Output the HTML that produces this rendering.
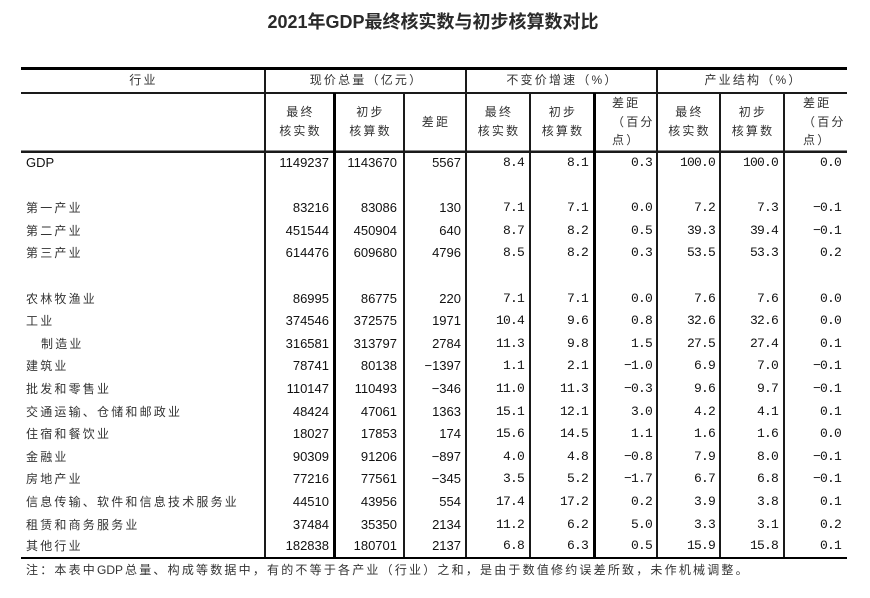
<!DOCTYPE html>
<html>
<head>
<meta charset="utf-8">
<style>
html,body{margin:0;padding:0;background:#fff;}
body{width:870px;height:598px;position:relative;overflow:hidden;font-family:"Liberation Sans","Noto Sans CJK SC",sans-serif;color:#111;}
.a{position:absolute;}
.ln{position:absolute;background:#1a1a1a;}
.title{position:absolute;left:-2px;top:10px;width:870px;text-align:center;font-size:18px;font-weight:bold;line-height:24px;color:#2a2a2a;}
.cj{font-family:"Liberation Sans","Noto Sans CJK SC",sans-serif;font-size:12px;letter-spacing:2.2px;color:#333;white-space:nowrap;}
.h1{position:absolute;top:69px;height:22px;line-height:22px;text-align:center;}
.h2{position:absolute;top:103px;line-height:19px;text-align:center;}
.h3{position:absolute;top:94px;line-height:18.5px;text-align:left;}
.row{position:absolute;left:0;width:870px;height:22.6px;line-height:24px;}
.lab{position:absolute;left:26px;top:0;}
.n{position:absolute;top:0;text-align:right;font-size:13px;color:#111;}
.d{position:absolute;top:0;text-align:right;font-family:"Liberation Mono",monospace;font-size:13px;letter-spacing:-0.8px;color:#111;}
.c1{left:265px;width:64px;}
.c2{left:336px;width:61px;}
.c3{left:405px;width:56px;}
.c4{left:467px;width:57px;}
.c5{left:531px;width:57px;}
.c6{left:596px;width:56px;}
.c7{left:658px;width:57px;}
.c8{left:721px;width:57px;}
.c9{left:785px;width:56px;}
.lat{letter-spacing:0;font-size:12px;margin-right:2px;}
</style>
</head>
<body>
<div class="title">2021年GDP最终核实数与初步核算数对比</div>

<!-- horizontal lines -->
<div class="ln" style="left:21px;top:67px;width:826px;height:3px;background:#000;"></div>
<div class="ln" style="left:21px;top:92px;width:826px;height:2px;"></div>
<div class="ln" style="left:21px;top:150px;width:826px;height:1px;background:#888;"></div>
<div class="ln" style="left:21px;top:151px;width:826px;height:1.5px;"></div>
<div class="ln" style="left:21px;top:557px;width:826px;height:2px;background:#000;"></div>

<!-- vertical lines -->
<div class="ln" style="left:264px;top:70px;width:2px;height:487px;"></div>
<div class="ln" style="left:465px;top:70px;width:2px;height:487px;"></div>
<div class="ln" style="left:656px;top:70px;width:2px;height:487px;"></div>
<div class="ln" style="left:333px;top:93px;width:3px;height:464px;background:#000;"></div>
<div class="ln" style="left:403px;top:93px;width:2px;height:464px;"></div>
<div class="ln" style="left:529px;top:93px;width:2px;height:464px;"></div>
<div class="ln" style="left:593px;top:93px;width:3px;height:464px;background:#000;"></div>
<div class="ln" style="left:719px;top:93px;width:2px;height:464px;"></div>
<div class="ln" style="left:783px;top:93px;width:2px;height:464px;"></div>

<!-- header row 1 -->
<div class="h1 cj" style="left:21px;width:245px;">行业</div>
<div class="h1 cj" style="left:266px;width:201px;">现价总量（亿元）</div>
<div class="h1 cj" style="left:467px;width:191px;">不变价增速（%）</div>
<div class="h1 cj" style="left:658px;width:191px;">产业结构（%）</div>

<!-- header row 2 -->
<div class="h2 cj" style="left:266px;width:69px;">最终<br>核实数</div>
<div class="h2 cj" style="left:336px;width:69px;">初步<br>核算数</div>
<div class="a cj" style="left:405px;width:62px;top:112px;line-height:20px;text-align:center;">差距</div>
<div class="h2 cj" style="left:467px;width:64px;">最终<br>核实数</div>
<div class="h2 cj" style="left:531px;width:64px;">初步<br>核算数</div>
<div class="h3 cj" style="left:612px;">差距<br>（百分<br>点）</div>
<div class="h2 cj" style="left:658px;width:63px;">最终<br>核实数</div>
<div class="h2 cj" style="left:721px;width:64px;">初步<br>核算数</div>
<div class="h3 cj" style="left:803px;">差距<br>（百分<br>点）</div>

<!-- data rows -->
<div class="row" style="top:151px;"><span class="lab" style="font-size:13px;color:#111;">GDP</span>
<span class="n c1">1149237</span><span class="n c2">1143670</span><span class="n c3">5567</span>
<span class="d c4">8.4</span><span class="d c5">8.1</span><span class="d c6">0.3</span><span class="d c7">100.0</span><span class="d c8">100.0</span><span class="d c9">0.0</span></div>

<div class="row" style="top:196.2px;"><span class="lab cj">第一产业</span>
<span class="n c1">83216</span><span class="n c2">83086</span><span class="n c3">130</span>
<span class="d c4">7.1</span><span class="d c5">7.1</span><span class="d c6">0.0</span><span class="d c7">7.2</span><span class="d c8">7.3</span><span class="d c9">−0.1</span></div>

<div class="row" style="top:218.8px;"><span class="lab cj">第二产业</span>
<span class="n c1">451544</span><span class="n c2">450904</span><span class="n c3">640</span>
<span class="d c4">8.7</span><span class="d c5">8.2</span><span class="d c6">0.5</span><span class="d c7">39.3</span><span class="d c8">39.4</span><span class="d c9">−0.1</span></div>

<div class="row" style="top:241.4px;"><span class="lab cj">第三产业</span>
<span class="n c1">614476</span><span class="n c2">609680</span><span class="n c3">4796</span>
<span class="d c4">8.5</span><span class="d c5">8.2</span><span class="d c6">0.3</span><span class="d c7">53.5</span><span class="d c8">53.3</span><span class="d c9">0.2</span></div>

<div class="row" style="top:286.6px;"><span class="lab cj">农林牧渔业</span>
<span class="n c1">86995</span><span class="n c2">86775</span><span class="n c3">220</span>
<span class="d c4">7.1</span><span class="d c5">7.1</span><span class="d c6">0.0</span><span class="d c7">7.6</span><span class="d c8">7.6</span><span class="d c9">0.0</span></div>

<div class="row" style="top:309.2px;"><span class="lab cj">工业</span>
<span class="n c1">374546</span><span class="n c2">372575</span><span class="n c3">1971</span>
<span class="d c4">10.4</span><span class="d c5">9.6</span><span class="d c6">0.8</span><span class="d c7">32.6</span><span class="d c8">32.6</span><span class="d c9">0.0</span></div>

<div class="row" style="top:331.8px;"><span class="lab cj" style="left:41px;">制造业</span>
<span class="n c1">316581</span><span class="n c2">313797</span><span class="n c3">2784</span>
<span class="d c4">11.3</span><span class="d c5">9.8</span><span class="d c6">1.5</span><span class="d c7">27.5</span><span class="d c8">27.4</span><span class="d c9">0.1</span></div>

<div class="row" style="top:354.4px;"><span class="lab cj">建筑业</span>
<span class="n c1">78741</span><span class="n c2">80138</span><span class="n c3">−1397</span>
<span class="d c4">1.1</span><span class="d c5">2.1</span><span class="d c6">−1.0</span><span class="d c7">6.9</span><span class="d c8">7.0</span><span class="d c9">−0.1</span></div>

<div class="row" style="top:377px;"><span class="lab cj">批发和零售业</span>
<span class="n c1">110147</span><span class="n c2">110493</span><span class="n c3">−346</span>
<span class="d c4">11.0</span><span class="d c5">11.3</span><span class="d c6">−0.3</span><span class="d c7">9.6</span><span class="d c8">9.7</span><span class="d c9">−0.1</span></div>

<div class="row" style="top:399.6px;"><span class="lab cj">交通运输、仓储和邮政业</span>
<span class="n c1">48424</span><span class="n c2">47061</span><span class="n c3">1363</span>
<span class="d c4">15.1</span><span class="d c5">12.1</span><span class="d c6">3.0</span><span class="d c7">4.2</span><span class="d c8">4.1</span><span class="d c9">0.1</span></div>

<div class="row" style="top:422.2px;"><span class="lab cj">住宿和餐饮业</span>
<span class="n c1">18027</span><span class="n c2">17853</span><span class="n c3">174</span>
<span class="d c4">15.6</span><span class="d c5">14.5</span><span class="d c6">1.1</span><span class="d c7">1.6</span><span class="d c8">1.6</span><span class="d c9">0.0</span></div>

<div class="row" style="top:444.8px;"><span class="lab cj">金融业</span>
<span class="n c1">90309</span><span class="n c2">91206</span><span class="n c3">−897</span>
<span class="d c4">4.0</span><span class="d c5">4.8</span><span class="d c6">−0.8</span><span class="d c7">7.9</span><span class="d c8">8.0</span><span class="d c9">−0.1</span></div>

<div class="row" style="top:467.4px;"><span class="lab cj">房地产业</span>
<span class="n c1">77216</span><span class="n c2">77561</span><span class="n c3">−345</span>
<span class="d c4">3.5</span><span class="d c5">5.2</span><span class="d c6">−1.7</span><span class="d c7">6.7</span><span class="d c8">6.8</span><span class="d c9">−0.1</span></div>

<div class="row" style="top:490px;"><span class="lab cj">信息传输、软件和信息技术服务业</span>
<span class="n c1">44510</span><span class="n c2">43956</span><span class="n c3">554</span>
<span class="d c4">17.4</span><span class="d c5">17.2</span><span class="d c6">0.2</span><span class="d c7">3.9</span><span class="d c8">3.8</span><span class="d c9">0.1</span></div>

<div class="row" style="top:512.6px;"><span class="lab cj">租赁和商务服务业</span>
<span class="n c1">37484</span><span class="n c2">35350</span><span class="n c3">2134</span>
<span class="d c4">11.2</span><span class="d c5">6.2</span><span class="d c6">5.0</span><span class="d c7">3.3</span><span class="d c8">3.1</span><span class="d c9">0.2</span></div>

<div class="row" style="top:535.2px;height:22px;line-height:22px;"><span class="lab cj">其他行业</span>
<span class="n c1">182838</span><span class="n c2">180701</span><span class="n c3">2137</span>
<span class="d c4">6.8</span><span class="d c5">6.3</span><span class="d c6">0.5</span><span class="d c7">15.9</span><span class="d c8">15.8</span><span class="d c9">0.1</span></div>

<!-- note -->
<div class="a cj" style="left:26px;top:560px;line-height:20px;">注：本表中<span class="lat">GDP</span>总量、构成等数据中，有的不等于各产业（行业）之和，是由于数值修约误差所致，未作机械调整。</div>
</body>
</html>
